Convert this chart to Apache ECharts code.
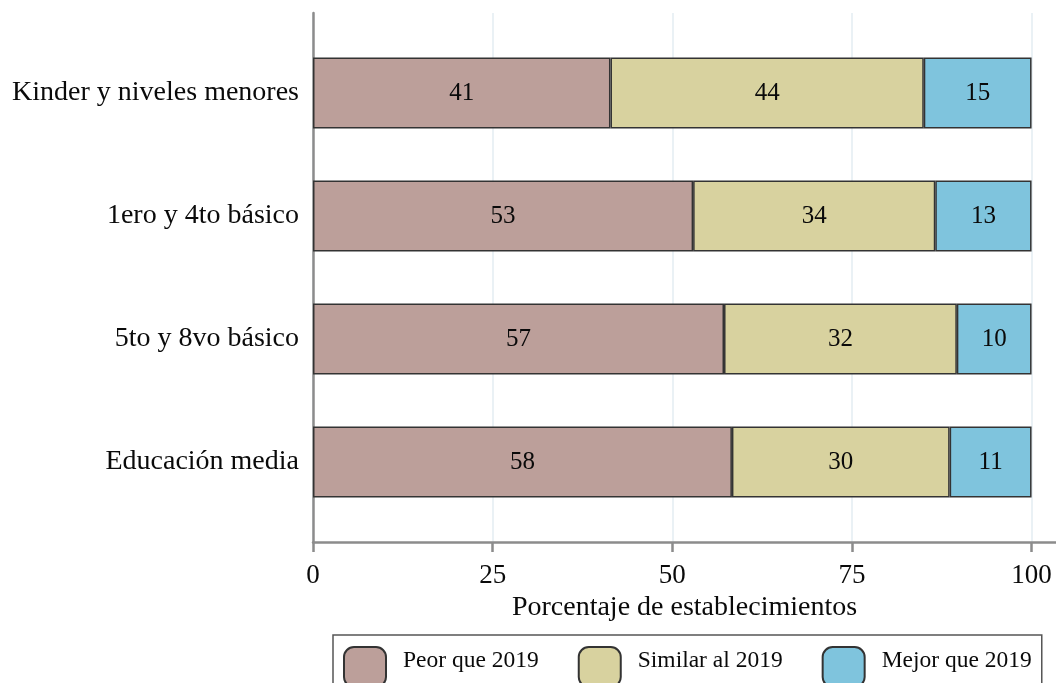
<!DOCTYPE html>
<html><head><meta charset="utf-8">
<script src="https://cdn.jsdelivr.net/npm/echarts@6/dist/echarts.min.js"></script>
<style>html,body{margin:0;padding:0;background:#fff}#c{width:1056px;height:683px}</style>
</head><body><div id="c"></div>
<script>
const categories = ['Kinder y niveles menores', '1ero y 4to básico', '5to y 8vo básico', 'Educación media'];
const seriesNames = ['Peor que 2019', 'Similar al 2019', 'Mejor que 2019'];
const peor = [41.4, 52.9, 57.2, 58.3];
const similar = [43.6, 33.7, 32.4, 30.3];
const mejor = [15.0, 13.4, 10.4, 11.4];
const xTicks = [0, 25, 50, 75, 100];
const axisTitle = 'Porcentaje de establecimientos';

const FONT = "'Liberation Serif', 'Times New Roman', serif";
const colors = ['#bc9f9a', '#d8d29f', '#7fc4dd'];
const values = [peor, similar, mejor];
const axisGray = '#8c8c8c';

const chart = echarts.init(document.getElementById('c'), null, {renderer: 'canvas'});
chart.setOption({
  animation: false,
  backgroundColor: '#fff',
  textStyle: {fontFamily: FONT},
  grid: [
    {left: 313, top: 31.5, width: 743, height: 492},
    {left: 313, top: 13, width: 743, height: 529}
  ],
  xAxis: [
    {gridIndex: 0, type: 'value', min: 0, max: 103.4, show: false},
    {gridIndex: 1, type: 'value', min: 0, max: 103.4,
     axisLine: {show: true, lineStyle: {color: axisGray, width: 2.5}},
     axisTick: {show: true, customValues: xTicks, length: 10, lineStyle: {color: axisGray, width: 2.5}},
     axisLabel: {customValues: xTicks, margin: 20, fontSize: 27, color: '#0a0a0a', fontFamily: FONT},
     splitLine: {show: true, lineStyle: {color: '#eaf1f5', width: 2}},
     name: axisTitle, nameLocation: 'middle', nameGap: 47,
     nameTextStyle: {fontSize: 28, color: '#0a0a0a', fontFamily: FONT}}
  ],
  yAxis: [
    {gridIndex: 0, type: 'category', data: categories, inverse: true,
     axisLine: {show: false}, axisTick: {show: false},
     axisLabel: {margin: 14, fontSize: 28, color: '#0a0a0a', fontFamily: FONT},
     splitLine: {show: false}},
    {gridIndex: 1, type: 'value', min: 0, max: 1,
     axisLine: {show: true, lineStyle: {color: axisGray, width: 2.5}},
     axisTick: {show: false}, axisLabel: {show: false}, splitLine: {show: false}}
  ],
  legend: {
    data: seriesNames,
    left: 333, top: 635,
    padding: [11, 10, 20, 10],
    itemWidth: 42, itemHeight: 40, itemGap: 39,
    icon: 'roundRect',
    borderColor: '#555', borderWidth: 1.5, borderRadius: 0,
    formatter: name => '{t|' + name + '}\n{s|}',
    textStyle: {
      fontSize: 23.5, color: '#0a0a0a', fontFamily: FONT, padding: [0, 0, 0, 12],
      rich: {
        t: {fontSize: 23.5, color: '#0a0a0a', fontFamily: FONT, lineHeight: 26},
        s: {fontSize: 1, lineHeight: 13, height: 13}
      }
    }
  },
  series: seriesNames.map((name, i) => ({
    name: name,
    type: 'bar',
    stack: 'total',
    xAxisIndex: 0, yAxisIndex: 0,
    barWidth: 71,
    data: values[i],
    itemStyle: {color: colors[i], borderColor: '#333', borderWidth: 1.5},
    label: {show: true, position: 'inside', formatter: p => String(Math.round(p.value)),
            fontSize: 25, color: '#0a0a0a', fontFamily: FONT}
  }))
});
</script></body></html>
